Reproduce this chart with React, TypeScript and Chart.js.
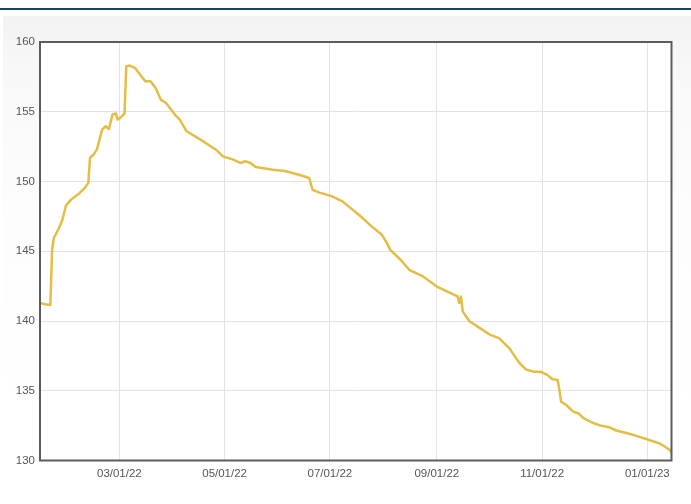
import React, { useEffect, useRef } from "react";
import { Chart, registerables } from "chart.js";

Chart.register(...registerables);

const dates: string[] = [
  "2022-01-14", "2022-01-17", "2022-01-20", "2022-01-21", "2022-01-22", "2022-01-25", "2022-01-27", "2022-01-29",
  "2022-02-01", "2022-02-06", "2022-02-09", "2022-02-11", "2022-02-12", "2022-02-14", "2022-02-16", "2022-02-19",
  "2022-02-21", "2022-02-23", "2022-02-25", "2022-02-27", "2022-02-28", "2022-03-02", "2022-03-04", "2022-03-05",
  "2022-03-07", "2022-03-10", "2022-03-16", "2022-03-19", "2022-03-22", "2022-03-25", "2022-03-28", "2022-04-03",
  "2022-04-05", "2022-04-09", "2022-04-17", "2022-04-26", "2022-04-30", "2022-05-06", "2022-05-10", "2022-05-13",
  "2022-05-16", "2022-05-19", "2022-05-29", "2022-06-05", "2022-06-14", "2022-06-19", "2022-06-21", "2022-06-25",
  "2022-07-02", "2022-07-08", "2022-07-12", "2022-07-18", "2022-07-25", "2022-07-31", "2022-08-03", "2022-08-05",
  "2022-08-11", "2022-08-16", "2022-08-24", "2022-09-01", "2022-09-09", "2022-09-13", "2022-09-14", "2022-09-15",
  "2022-09-16", "2022-09-20", "2022-09-26", "2022-10-02", "2022-10-07", "2022-10-11", "2022-10-13", "2022-10-16",
  "2022-10-19", "2022-10-23", "2022-10-27", "2022-10-31", "2022-11-04", "2022-11-07", "2022-11-10", "2022-11-11",
  "2022-11-12", "2022-11-15", "2022-11-19", "2022-11-22", "2022-11-25", "2022-12-01", "2022-12-05", "2022-12-10",
  "2022-12-14", "2022-12-22", "2022-12-27", "2023-01-02", "2023-01-08", "2023-01-11", "2023-01-14", "2023-01-15",
];

const values: number[] = [
  141.3, 141.2, 141.15, 145.1, 145.95, 146.67, 147.26, 148.26,
  148.7, 149.18, 149.54, 149.9, 151.7, 151.93, 152.3, 153.72,
  153.96, 153.77, 154.8, 154.87, 154.44, 154.63, 154.87, 158.26,
  158.31, 158.15, 157.19, 157.19, 156.7, 155.87, 155.63, 154.68,
  154.44, 153.6, 153.0, 152.28, 151.8, 151.57, 151.33, 151.45,
  151.33, 151.04, 150.85, 150.75, 150.45, 150.25, 149.4, 149.2,
  148.95, 148.6, 148.2, 147.6, 146.8, 146.2, 145.6, 145.1,
  144.39, 143.67, 143.19, 142.47, 142.0, 141.76, 141.3, 141.75,
  140.68, 139.96, 139.49, 139.0, 138.77, 138.29, 138.05, 137.5,
  136.97, 136.5, 136.37, 136.37, 136.14, 135.83, 135.78, 135.06,
  134.22, 133.98, 133.5, 133.39, 133.03, 132.67, 132.5, 132.38,
  132.15, 131.9, 131.71, 131.47, 131.23, 131.0, 130.75, 130.6,
];

const xTickDates: string[] = ["2022-03-01", "2022-05-01", "2022-07-01", "2022-09-01", "2022-11-01", "2023-01-01"];
const yMin = 130;
const yMax = 160;
const yStep = 5;

const toTs = (s: string) => {
  const [y, m, d] = s.split("-").map(Number);
  return Date.UTC(y, m - 1, d);
};
const fmt = (ts: number) => {
  const d = new Date(ts);
  const mm = String(d.getUTCMonth() + 1).padStart(2, "0");
  const dd = String(d.getUTCDate()).padStart(2, "0");
  const yy = String(d.getUTCFullYear() % 100).padStart(2, "0");
  return `${mm}/${dd}/${yy}`;
};

const areaPlugin = {
  id: "areaPlugin",
  beforeDraw(chart: any) {
    const { ctx, chartArea } = chart;
    ctx.save();
    ctx.fillStyle = "#ffffff";
    ctx.fillRect(chartArea.left, chartArea.top, chartArea.right - chartArea.left, chartArea.bottom - chartArea.top);
    ctx.restore();
  },
  afterDraw(chart: any) {
    const { ctx, chartArea } = chart;
    ctx.save();
    ctx.strokeStyle = "#5c5c5c";
    ctx.lineWidth = 2;
    ctx.strokeRect(chartArea.left, chartArea.top, chartArea.right - chartArea.left, chartArea.bottom - chartArea.top);
    ctx.restore();
  },
};

export default function App() {
  const ref = useRef<HTMLCanvasElement | null>(null);

  useEffect(() => {
    if (!ref.current) return;
    const points = dates.map((d, i) => ({ x: toTs(d), y: values[i] }));
    const chart = new Chart(ref.current, {
      type: "line",
      data: {
        datasets: [
          {
            data: points,
            borderColor: "#e4bd45",
            borderWidth: 2.5,
            pointRadius: 0,
            tension: 0,
            borderJoinStyle: "round",
            borderCapStyle: "round",
            fill: false,
          },
        ],
      },
      options: {
        animation: false,
        responsive: false,
        parsing: false,
        layout: { padding: { left: 0, top: 42, right: 19.5, bottom: 13.5 } },
        plugins: { legend: { display: false }, tooltip: { enabled: false } },
        scales: {
          x: {
            type: "linear",
            min: toTs("2022-01-14"),
            max: toTs("2023-01-15"),
            afterBuildTicks: (scale: any) => {
              scale.ticks = xTickDates.map((d) => ({ value: toTs(d) }));
            },
            afterFit: (scale: any) => {
              scale.height = 30;
            },
            grid: { color: "#e3e3e3", lineWidth: 1, drawTicks: false },
            border: { display: false },
            ticks: {
              autoSkip: false,
              maxRotation: 0,
              padding: 6,
              color: "#555555",
              font: { family: "'Liberation Sans', Arial, sans-serif", size: 11.5 },
              callback: (v: any) => fmt(Number(v)),
            },
          },
          y: {
            type: "linear",
            min: yMin,
            max: yMax,
            afterFit: (scale: any) => {
              scale.width = 40;
            },
            grid: { color: "#e3e3e3", lineWidth: 1, drawTicks: false },
            border: { display: false },
            ticks: {
              stepSize: yStep,
              padding: 5,
              color: "#555555",
              font: { family: "'Liberation Sans', Arial, sans-serif", size: 11.5 },
            },
          },
        },
      },
      plugins: [areaPlugin],
    } as any);
    return () => chart.destroy();
  }, []);

  return (
    <div style={{ position: "fixed", left: 0, top: 0, width: 691, height: 504, background: "#ffffff", overflow: "hidden" }}>
      <div style={{ position: "absolute", left: 0, top: 8, width: 691, height: 2, background: "#0b4a6c" }} />
      <div
        style={{
          position: "absolute",
          left: 3,
          top: 16,
          right: 0,
          bottom: 0,
          background: "linear-gradient(to bottom, #f3f3f3 0px, #f8f8f8 60px, #fdfdfd 200px, #ffffff 400px)",
        }}
      />
      <canvas ref={ref} width={691} height={504} style={{ position: "absolute", left: 0, top: 0, width: 691, height: 504 }} />
    </div>
  );
}
